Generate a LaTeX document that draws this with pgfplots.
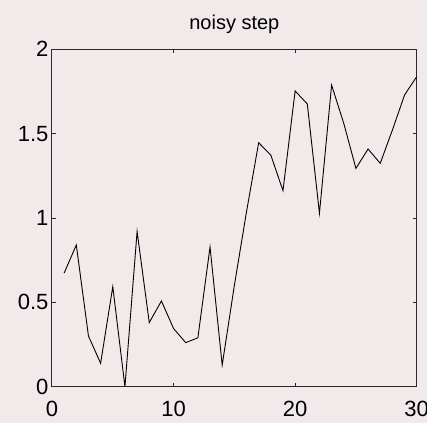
\documentclass[border=0pt]{standalone}
\usepackage{fontspec}
\setmainfont{Liberation Sans}
\usepackage{pgfplots}
\pgfplotsset{compat=1.18}
\definecolor{bg}{RGB}{242,233,234}
\definecolor{axc}{RGB}{40,40,40}
\begin{document}
\begin{tikzpicture}
\fill[bg] (-52pt,-36.3pt) rectangle (375pt,386.7pt);
\begin{axis}[
  at={(0pt,0pt)}, anchor=south west,
  scale only axis, width=364.7pt, height=337.4pt,
  xmin=0, xmax=30, ymin=0, ymax=2,
  xtick={0,10,20,30}, ytick={0,0.5,1,1.5,2},
  tick align=inside, major tick length=4pt,
  axis line style={axc, line width=1pt},
  every tick/.style={axc, line width=1pt},
  tick label style={font=\fontsize{22}{24}\selectfont},
  /pgf/number format/assume math mode=true,
  yticklabel style={/pgf/number format/fixed},
  xticklabel style={yshift=-11pt},
  title={noisy step},
  title style={font=\fontsize{20}{22}\selectfont, yshift=6pt},
  axis background/.style={fill=bg},
]
\addplot[black, line width=0.9pt] coordinates {
(1,0.674) (2,0.84) (3,0.30) (4,0.139) (5,0.593) (6,0.0) (7,0.92)
(8,0.38) (9,0.508) (10,0.345) (11,0.261) (12,0.29) (13,0.828)
(14,0.128) (15,0.60) (16,1.037) (17,1.446) (18,1.373) (19,1.162)
(20,1.753) (21,1.676) (22,1.028) (23,1.788) (24,1.561) (25,1.294)
(26,1.409) (27,1.324) (28,1.521) (29,1.729) (30,1.838)
};
\end{axis}
\pgfresetboundingbox
\path (-52pt,-36.3pt) rectangle (375pt,386.7pt);
\end{tikzpicture}
\end{document}
